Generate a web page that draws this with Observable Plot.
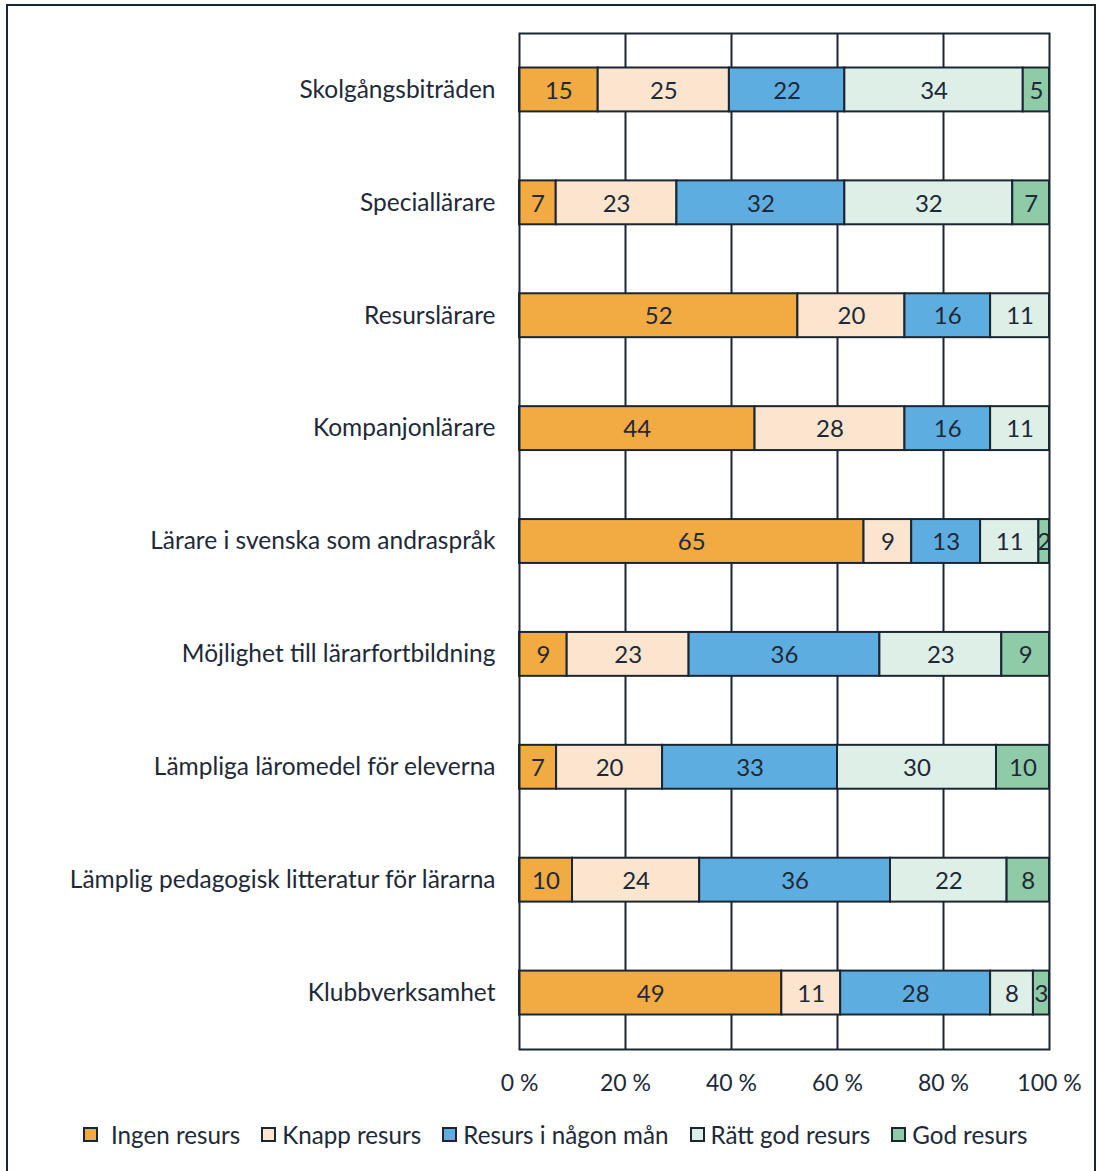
<!DOCTYPE html>
<html>
<head>
<meta charset="utf-8">
<script src="https://cdn.jsdelivr.net/npm/d3@7"></script>
<script src="https://cdn.jsdelivr.net/npm/@observablehq/plot@0.6"></script>
<style>
  html, body { margin: 0; padding: 0; background: #fff; }
  body { width: 1098px; height: 1171px; position: relative; overflow: hidden; font-family: Lato, "Open Sans", sans-serif; color: #1e2937; }
  #frame { position: absolute; left: 6px; top: 4px; width: 1090px; height: 1200px; border: 2px solid #1b2633; box-sizing: border-box; pointer-events: none; }
  #chart { position: absolute; left: 0; top: 0; }
  #legend { position: absolute; left: 83px; top: 1120px; display: flex; align-items: center; font-size: 24.2px; white-space: nowrap; }
  #legend .item { display: flex; align-items: center; margin-right: 21px; }
  #legend .sw { width: 11px; height: 11px; border: 2px solid #1b2633; margin-right: 6px; }
</style>
</head>
<body>
<div id="chart"></div>
<div id="legend"></div>
<div id="frame"></div>
<script>
// Resource categories, top to bottom
const categories = [
  "Skolgångsbiträden",
  "Speciallärare",
  "Resurslärare",
  "Kompanjonlärare",
  "Lärare i svenska som andraspråk",
  "Möjlighet till lärarfortbildning",
  "Lämpliga läromedel för eleverna",
  "Lämplig pedagogisk litteratur för lärarna",
  "Klubbverksamhet"
];

// Response levels, left to right
const series = ["Ingen resurs", "Knapp resurs", "Resurs i någon mån", "Rätt god resurs", "God resurs"];
const colors = ["#f2aa42", "#fbe5ce", "#5eade0", "#ddefe6", "#8ecba6"];

// Percent per category, one array per response level
const ingenResurs     = [15, 7, 52, 44, 65, 9, 7, 10, 49];
const knappResurs     = [25, 23, 20, 28, 9, 23, 20, 24, 11];
const resursNagonMan  = [22, 32, 16, 16, 13, 36, 33, 36, 28];
const rattGodResurs   = [34, 32, 11, 11, 11, 23, 30, 22, 8];
const godResurs       = [5, 7, 0, 0, 2, 9, 10, 8, 3];

const xTicks = [0, 0.2, 0.4, 0.6, 0.8, 1];

const valueSets = [ingenResurs, knappResurs, resursNagonMan, rattGodResurs, godResurs];
const data = [];
series.forEach((s, i) => {
  categories.forEach((c, j) => {
    const v = valueSets[i][j];
    if (v > 0) data.push({category: c, series: s, value: v});
  });
});

const ink = "#1b2633";
const textInk = "#1e2937";
const stackOpts = {x: "value", y: "category", z: "series", offset: "normalize", order: null};

const chart = Plot.plot({
  width: 1098,
  height: 1105,
  marginLeft: 519,
  marginRight: 49,
  marginTop: 33,
  marginBottom: 56,
  style: {fontFamily: "Lato, 'Open Sans', sans-serif", color: textInk, background: "transparent"},
  x: {domain: [0, 1], axis: null},
  y: {domain: categories, padding: 0, round: false, axis: null},
  color: {domain: series, range: colors},
  marks: [
    Plot.ruleX(xTicks.slice(1, -1), {stroke: ink, strokeWidth: 2}),
    Plot.barX(data, Plot.stackX({...stackOpts, fill: "series", stroke: ink, strokeWidth: 2, insetTop: 34.5, insetBottom: 34.5})),
    Plot.text(data, Plot.stackX({...stackOpts, text: d => String(d.value), fill: textInk, fontSize: 24, dy: 1})),
    Plot.frame({stroke: ink, strokeWidth: 2}),
    Plot.axisY({tickSize: 0, tickPadding: 24, fontSize: 24.5, fill: textInk, label: null}),
    Plot.axisX(xTicks, {tickSize: 0, tickPadding: 25, fontSize: 23, fill: textInk, label: null, tickFormat: d => `${Math.round(d * 100)} %`})
  ]
});
document.getElementById("chart").appendChild(chart);

const legend = document.getElementById("legend");
series.forEach((s, i) => {
  const item = document.createElement("div");
  item.className = "item";
  const sw = document.createElement("span");
  sw.className = "sw";
  sw.style.background = colors[i];
  if (i === 0) sw.style.marginRight = "13px";
  const label = document.createElement("span");
  label.textContent = s;
  item.appendChild(sw);
  item.appendChild(label);
  legend.appendChild(item);
});
</script>
</body>
</html>
